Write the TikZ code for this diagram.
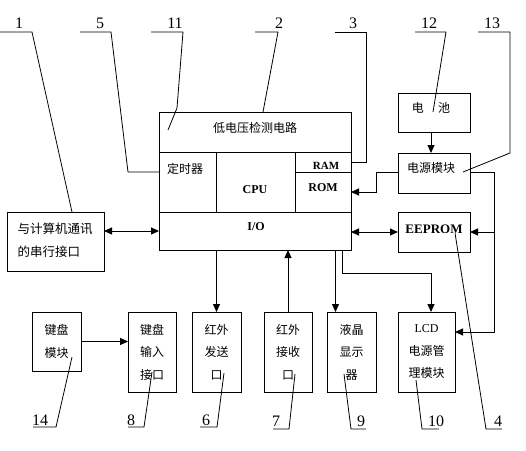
\documentclass[tikz,border=0pt]{standalone}
\usepackage{fontspec}
\setmainfont{Liberation Serif}
\newfontfamily\cjk{Noto Sans CJK SC}
\usetikzlibrary{arrows.meta}
\begin{document}
\begin{tikzpicture}[x=1pt,y=-1pt,
  box/.style={draw, line width=1pt, inner sep=0pt, outer sep=0pt},
  zh/.style={font=\cjk\fontsize{12}{22.5}\selectfont, align=center},
  lat/.style={font=\fontsize{12}{14}\selectfont\bfseries},
  num/.style={font=\fontsize{16}{18}\selectfont, inner sep=0pt},
  arr/.style={line width=1pt, -{Triangle[length=8pt,width=7pt]}},
  arrd/.style={line width=1pt, {Triangle[length=8pt,width=7pt]}-{Triangle[length=8pt,width=7pt]}},
  lead/.style={line width=0.8pt}]
\useasboundingbox (0,0) rectangle (526,450);

% main block
\node[box, minimum width=192pt, minimum height=40pt] (lv) at (255,132) {};
\node[box, minimum width=57pt, minimum height=60pt] (timer) at (187.5,182) {};
\node[box, minimum width=79pt, minimum height=60pt] (cpu) at (255.5,182) {};
\node[box, minimum width=56pt, minimum height=20pt] (ram) at (323,162) {};
\node[box, minimum width=56pt, minimum height=40pt] (rom) at (323,192) {};
\node[box, minimum width=192pt, minimum height=38pt] (io) at (255,231) {};
\node[zh] (lvt) at (255,128) {低电压检测电路};
\node[zh] (timert) at (185,169) {定时器};
\node[lat] (cput) at (255,190) {CPU};
\node[lat, font=\fontsize{11}{13}\selectfont\bfseries] (ramt) at (326,166) {RAM};
\node[lat] (romt) at (323,188) {ROM};
\node[lat] (iot) at (256,227) {I/O};

% other boxes
\node[box, minimum width=97pt, minimum height=59pt] (serial) at (55.5,241.5) {};
\node[zh, font=\cjk\fontsize{12.5}{23}\selectfont, align=left] (serialt) at (55,240.5) {与计算机通讯\\的串行接口};
\node[box, minimum width=72pt, minimum height=39pt] (battery) at (434,112.5) {};
\node[zh] (batteryt) at (431,108) {电\hspace{1.2em}池};
\node[box, minimum width=72pt, minimum height=40pt] (power) at (434,173) {};
\node[zh] (powert) at (431,168) {电源模块};
\node[box, minimum width=72pt, minimum height=40pt] (eeprom) at (434,232) {};
\node[lat, font=\fontsize{13}{15}\selectfont\bfseries] (eepromt) at (434,229) {EEPROM};

\node[box, minimum width=49pt, minimum height=59pt, zh] (kbd) at (56.5,341.5) {键盘\\模块};
\node[box, minimum width=48pt, minimum height=80pt, zh] (kbdin) at (152,352) {键盘\\输入\\接口};
\node[box, minimum width=49pt, minimum height=80pt, zh] (irsend) at (216.5,352) {红外\\发送\\口};
\node[box, minimum width=48pt, minimum height=80pt, zh] (irrecv) at (288,352) {红外\\接收\\口};
\node[box, minimum width=49pt, minimum height=80pt, zh] (ldisp) at (351.5,352) {液晶\\显示\\器};
\node[box, minimum width=57pt, minimum height=80pt, zh] (lcdpm) at (426.5,352) {{\rmfamily LCD}\\电源管\\理模块};

% connectors
\draw[arrd] (serial.east |- io.west) -- (io.west);
\draw[arrd] (io.east |- eeprom.west) -- (eeprom.west);
\draw[arr] ([xshift=-3pt]battery.south) -- ([xshift=-3pt]power.north);
\draw[arr] ([yshift=1pt]power.west) -- ++(-22,0) |- (rom.east);
\draw[arr] ([yshift=1pt]power.east) -- ++(24,0) coordinate (pr) |- ([yshift=20pt]lcdpm.east);
\draw[arr] (pr |- eeprom.east) -- (eeprom.east);
\draw[arr] (io.south -| irsend.north) -- (irsend.north);
\draw[arr] (irrecv.north) -- (io.south -| irrecv.north);
\coordinate (ldx) at ([xshift=-16pt]ldisp.north);
\draw[arr] (io.south -| ldx) -- (ldx);
\coordinate (lcdtap) at ([xshift=87pt]io.south);
\coordinate (lcdin) at ([xshift=4.5pt]lcdpm.north);
\draw[arr] (lcdtap) -- ++(0,23) -| (lcdin);
\draw[arr] (kbd.east) -- (kbdin.west |- kbd.east);

% number labels
\node[num] (n1) at (19,23) {1};
\node[num] (n5) at (100,23) {5};
\node[num] (n11) at (175,23) {11};
\node[num] (n2) at (279,23) {2};
\node[num] (n3) at (353,23) {3};
\node[num] (n12) at (429,23) {12};
\node[num] (n13) at (492,23) {13};
\node[num] (n14) at (40,420) {14};
\node[num] (n8) at (131,420) {8};
\node[num] (n6) at (206,420) {6};
\node[num] (n7) at (276,421) {7};
\node[num] (n9) at (361,421) {9};
\node[num] (n10) at (436,421) {10};
\node[num] (n4) at (498,421) {4};

% leaders
\draw[lead] (0,32) -- (32,32) -- (serial.north -| 72,0);
\draw[lead] (80,32) -- (111,32) -- (128,172) -- (timer.west |- 0,172);
\draw[lead] (151,32) -- (183,32) -- (177,108) -- (168,130);
\draw[lead] (255,32) -- (278,32) -- (lv.north -| 263,0);
\draw[lead] (335,32) -- (366,32) -- (366,162) -- (ram.east);
\draw[lead] (415,32) -- (446,32) -- (433,112);
\draw[lead] (478,32) -- (510,32) -- (510,153) -- (463,172);
\draw[lead] (33,427) -- (56,427) -- (72,357);
\draw[lead] (128,427) -- (144,427) -- (152,372);
\draw[lead] (200,427) -- (217,427) -- (224,373);
\draw[lead] (273,429) -- (289,429) -- (295,374);
\draw[lead] (366,429) -- (351,429) -- (344,374);
\draw[lead] (439,429) -- (422,429) -- (416,380);
\draw[lead] (502,429) -- (486,429) -- (455,233);
\end{tikzpicture}
\end{document}
